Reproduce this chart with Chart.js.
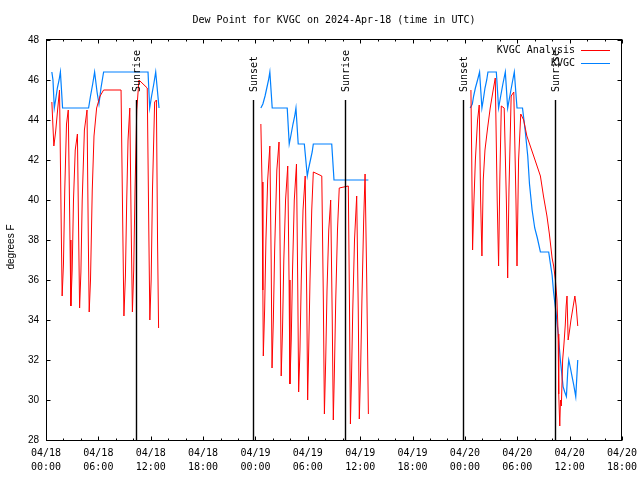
<!DOCTYPE html>
<html><head><meta charset="utf-8">
<script src="https://cdn.jsdelivr.net/npm/chart.js@4/dist/chart.umd.min.js"></script>
<style>html,body{margin:0;padding:0;background:#fff;}canvas{display:block;}</style>
</head><body>
<canvas id="c" width="640" height="480"></canvas>
<script>
// ---------- data ----------
const chartTitle = 'Dew Point for KVGC on 2024-Apr-18 (time in UTC)';
const yAxisTitle = 'degrees F';
const seriesNames = ['KVGC Analysis', 'KVGC'];
const xTickLabels = [
  ['04/18','00:00'], ['04/18','06:00'], ['04/18','12:00'], ['04/18','18:00'],
  ['04/19','00:00'], ['04/19','06:00'], ['04/19','12:00'], ['04/19','18:00'],
  ['04/20','00:00'], ['04/20','06:00'], ['04/20','12:00'], ['04/20','18:00']
];
// hours since 04/18 00:00 UTC
const analysisHours = [
  0.67,0.9,1.1,1.35,1.55,1.75,1.85,2.0,2.15,2.35,2.55,2.75,2.85,3.0,3.15,3.35,3.6,3.75,3.85,4.0,4.15,4.4,4.7,4.85,4.95,5.1,5.3,5.5,5.8,6.2,6.6,8.6,8.8,8.93,9.1,9.25,9.4,9.6,9.78,9.9,10.05,10.2,10.4,10.65,11.6,11.78,11.9,12.05,12.2,12.45,12.65,12.78,12.9,
  18,
  24.62,24.75,24.85,24.9,25.05,25.2,25.4,25.65,25.8,25.9,26.05,26.2,26.45,26.7,26.85,26.95,27.1,27.25,27.45,27.7,27.85,27.95,28.1,28.25,28.45,28.7,28.85,28.95,29.1,29.25,29.45,29.7,29.88,29.98,30.1,30.25,30.45,30.63,31.6,31.78,31.9,32.05,32.2,32.4,32.62,32.8,32.92,33.05,33.2,33.4,33.6,34.64,34.78,34.88,35.0,35.15,35.35,35.6,35.78,35.9,36.05,36.2,36.4,36.56,36.75,36.94,
  42,
  48.69,48.78,48.88,49.0,49.2,49.45,49.64,49.8,49.95,50.1,50.3,50.6,50.9,51.2,51.48,51.7,51.86,52.0,52.17,52.5,52.75,52.9,53.05,53.3,53.6,53.85,53.97,54.15,54.4,54.73,55.1,55.88,56.65,57.0,57.4,57.68,57.99,58.17,58.37,58.55,58.68,58.75,58.87,58.95,59.05,59.2,59.35,59.5,59.6,59.7,59.83,60.0,60.15,60.3,60.45,60.6,60.75,60.93
];
const analysisDewF = [
  44.9,42.7,43.4,44.6,45.5,38.5,35.2,36.8,40.5,43.8,44.5,38.0,34.7,36.5,40.0,42.5,43.3,38.0,34.6,36.4,40.0,43.5,44.5,38.0,34.4,36.0,40.5,43.2,44.6,45.2,45.5,45.5,38.5,34.2,36.2,40.0,43.0,44.6,38.0,34.4,36.5,40.5,44.5,46.0,45.6,38.5,34.0,36.0,40.5,44.9,45.0,38.0,33.6,
  null,
  43.8,40.9,35.5,32.2,34.5,38.0,41.0,42.7,37.0,31.6,34.0,37.5,41.5,42.9,36.5,31.2,33.5,37.0,40.0,41.7,36.0,30.8,33.0,36.5,40.0,41.8,35.5,30.4,32.5,36.0,39.5,41.2,35.0,30.0,32.5,36.0,39.5,41.4,41.2,35.0,29.3,32.0,35.5,38.5,40.0,34.0,29.0,31.5,35.0,38.5,40.6,40.7,34.5,28.8,31.0,34.5,38.0,40.2,34.5,29.05,31.5,35.0,39.0,41.3,36.0,29.3,
  null,
  45.5,42.2,37.5,39.5,42.0,44.0,44.75,40.0,37.2,41.0,42.5,43.6,44.6,45.4,46.1,40.0,36.7,41.0,44.7,44.6,40.0,36.1,40.5,45.2,45.4,40.0,36.7,42.0,44.3,44.0,43.2,42.2,41.2,40.2,39.2,38.3,37.1,36.7,36.0,35.0,33.3,30.3,28.7,30.0,29.7,32.0,32.8,33.75,34.7,35.2,33.0,33.5,34.0,34.4,34.8,35.2,34.7,33.7
];
const stationHours = [
  0.67,0.8,0.95,1.1,1.3,1.5,1.65,1.9,4.88,5.1,5.35,5.57,5.85,6.07,6.3,6.6,11.69,11.88,12.1,12.35,12.57,12.95,
  18,
  24.62,24.85,25.1,25.3,25.5,25.65,25.92,27.64,27.87,28.05,28.3,28.5,28.64,28.9,29.6,29.94,30.1,30.3,30.5,30.63,32.74,33.0,36.94,
  42,
  48.6,48.85,49.0,49.2,49.45,49.68,49.95,50.1,50.3,50.5,50.64,51.6,51.86,52.1,52.35,52.63,52.9,53.15,53.4,53.66,53.97,54.6,54.9,55.2,55.4,55.7,56.0,56.3,56.65,57.6,57.8,57.99,58.17,58.45,58.68,58.94,59.25,59.44,59.63,59.79,59.9,60.09,60.28,60.47,60.7,60.93
];
const stationDewF = [
  46.4,46.0,44.6,45.0,45.6,46.0,46.4,44.6,44.6,45.2,45.8,46.4,45.4,44.8,45.6,46.4,46.4,44.6,45.2,45.8,46.4,44.6,
  null,
  44.6,44.8,45.2,45.6,46.0,46.4,44.6,44.6,42.8,43.2,43.8,44.2,44.6,42.8,42.8,41.2,41.6,42.0,42.4,42.8,42.8,41.0,41.0,
  null,
  44.6,44.8,45.2,45.6,46.0,46.4,44.6,45.0,45.6,46.0,46.4,46.4,44.6,45.2,45.8,46.4,44.6,45.2,45.8,46.4,44.6,44.6,43.5,42.2,40.8,39.5,38.6,38.1,37.4,37.4,36.8,36.25,35.35,34.33,33.33,32.0,30.67,30.4,30.17,31.5,32.0,31.6,31.17,30.75,30.17,32.0
];
const sunHours = [10.31, 23.74, 34.3, 47.73, 58.29];
const sunLabels = ['Sunrise', 'Sunset', 'Sunrise', 'Sunset', 'Sunrise'];

// ---------- styles ----------
const MONO = '"DejaVu Sans Mono", monospace';
const SANS = '"Liberation Sans", Arial, sans-serif';
const RED = 'rgb(255,0,0)';
const BLUE = 'rgb(0,128,255)';

const toXY = (hs, vs) => hs.map((h, i) => ({x: h, y: vs[i]}));

const decor = {
  id: 'decor',
  afterDraw(chart) {
    const {ctx, chartArea: a, scales: {x, y}} = chart;
    ctx.save();
    // sun lines
    ctx.strokeStyle = '#000';
    ctx.lineWidth = 1.4;
    ctx.fillStyle = '#000';
    ctx.font = '10px ' + MONO;
    const lineTop = y.getPixelForValue(45);
    sunHours.forEach((h, i) => {
      const px = Math.round(x.getPixelForValue(h)) + 0.5;
      ctx.beginPath(); ctx.moveTo(px, lineTop); ctx.lineTo(px, a.bottom); ctx.stroke();
      ctx.save();
      ctx.translate(px + 0.5, lineTop - 8);
      ctx.rotate(-Math.PI / 2);
      ctx.textAlign = 'left'; ctx.textBaseline = 'middle';
      ctx.fillText(sunLabels[i], 0, 0);
      ctx.restore();
    });
    // frame
    ctx.lineWidth = 1;
    const L = Math.round(a.left) + 0.5, R = Math.round(a.right) - 0.5;
    const T = Math.round(a.top) - 0.5, B = Math.round(a.bottom) + 0.5;
    ctx.strokeRect(L, T, R - L, B - T);
    // x ticks (minor every 2h, major at labelled ticks)
    ctx.beginPath();
    for (let h = x.min; h <= x.max; h += 2) {
      const px = Math.round(x.getPixelForValue(h)) + 0.5;
      const len = (h % 6 === 0) ? 4 : 2;
      ctx.moveTo(px, B); ctx.lineTo(px, B - len);
      ctx.moveTo(px, T); ctx.lineTo(px, T + len);
    }
    y.ticks.forEach(t => {
      const py = Math.round(y.getPixelForValue(t.value)) + 0.5;
      ctx.moveTo(L, py); ctx.lineTo(L + 4, py);
      ctx.moveTo(R, py); ctx.lineTo(R - 4, py);
    });
    ctx.stroke();
    // title
    ctx.fillStyle = '#000';
    ctx.font = '10px ' + MONO;
    ctx.textAlign = 'center'; ctx.textBaseline = 'middle';
    ctx.fillText(chartTitle, (a.left + a.right) / 2, 20);
    // y axis title
    ctx.save();
    ctx.font = '10px ' + SANS;
    ctx.translate(11, 247);
    ctx.rotate(-Math.PI / 2);
    ctx.fillText(yAxisTitle, 0, 0);
    ctx.restore();
    // legend
    ctx.font = '10px ' + MONO;
    ctx.textAlign = 'right';
    const colors = [RED, BLUE];
    seriesNames.forEach((n, i) => {
      const ly = 50.5 + i * 13;
      ctx.fillStyle = '#000';
      ctx.fillText(n, a.right - 47, ly);
      ctx.strokeStyle = colors[i];
      ctx.lineWidth = 1;
      ctx.beginPath(); ctx.moveTo(a.right - 41, Math.round(ly) - 0.5); ctx.lineTo(a.right - 12, Math.round(ly) - 0.5); ctx.stroke();
    });
    ctx.restore();
  }
};

new Chart(document.getElementById('c'), {
  type: 'line',
  data: {
    datasets: [
      {label: seriesNames[0], data: toXY(analysisHours, analysisDewF), borderColor: RED, borderWidth: 1, pointRadius: 0, tension: 0, spanGaps: false},
      {label: seriesNames[1], data: toXY(stationHours, stationDewF), borderColor: BLUE, borderWidth: 1.2, pointRadius: 0, tension: 0, spanGaps: false}
    ]
  },
  options: {
    responsive: false,
    animation: false,
    devicePixelRatio: 1,
    layout: {padding: {top: 40, right: 18, left: 0, bottom: 0}},
    plugins: {legend: {display: false}, tooltip: {enabled: false}, title: {display: false}},
    scales: {
      x: {
        type: 'linear', min: 0, max: 66,
        grid: {display: false, drawTicks: false}, border: {display: false},
        ticks: {stepSize: 6, autoSkip: false, maxRotation: 0, minRotation: 0, padding: 7, color: '#000',
          font: {family: MONO, size: 10, lineHeight: 1.35},
          callback: v => xTickLabels[Math.round(v / 6)] || ''},
        afterFit: s => { s.height = 40; s.paddingLeft = 0; s.paddingRight = 0; }
      },
      y: {
        min: 28, max: 48,
        grid: {display: false, drawTicks: false}, border: {display: false},
        ticks: {stepSize: 2, padding: 7, color: '#000', font: {family: SANS, size: 10}},
        afterFit: s => { s.width = 46; }
      }
    }
  },
  plugins: [decor]
});
</script>
</body></html>
